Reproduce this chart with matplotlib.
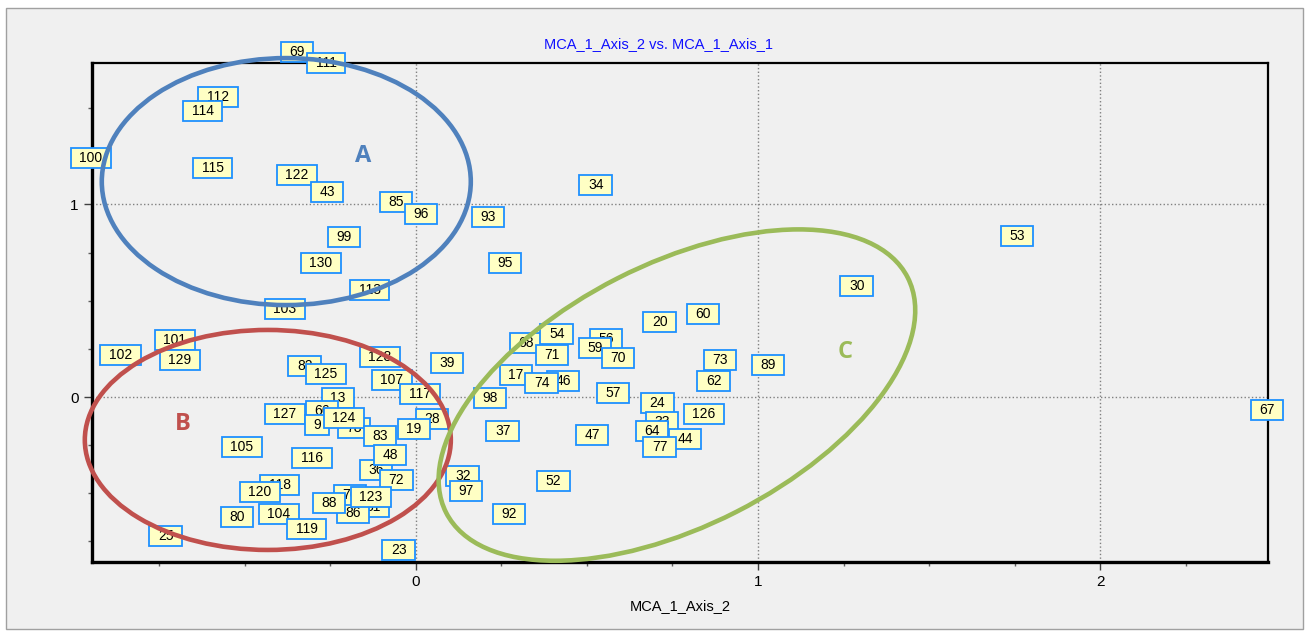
import matplotlib
matplotlib.use("Agg")
import matplotlib.pyplot as plt
from matplotlib.patches import Ellipse, Rectangle
from matplotlib.path import Path
from matplotlib.transforms import ScaledTranslation
from matplotlib.ticker import MultipleLocator

plt.rcParams['font.family'] = ['Liberation Sans', 'DejaVu Sans']

# ---- data: observation labels and their coordinates (drawing order) ----
labels = ["69", "111", "112", "114", "100", "115", "122", "43", "85", "96",
          "93", "99", "130", "113", "103", "34", "53", "95", "30", "20",
          "60", "68", "54", "56", "59", "70", "71", "17", "46", "74",
          "98", "57", "73", "62", "89", "24", "126", "33", "44", "64",
          "77", "37", "47", "67", "32", "97", "52", "92", "102", "101",
          "129", "82", "125", "128", "107", "117", "39", "13", "127", "66",
          "9", "78", "124", "83", "28", "19", "105", "116", "36", "48",
          "72", "118", "120", "104", "119", "80", "81", "86", "76", "88",
          "123", "23", "25"]
mca_axis_2 = [-0.348, -0.263, -0.579, -0.623, -0.950, -0.594, -0.348, -0.260, -0.058, 0.015,
              0.211, -0.211, -0.278, -0.135, -0.383, 0.526, 1.757, 0.260, 1.289, 0.713,
              0.839, 0.322, 0.412, 0.556, 0.523, 0.591, 0.398, 0.292, 0.430, 0.368,
              0.216, 0.576, 0.889, 0.871, 1.029, 0.705, 0.842, 0.719, 0.787, 0.690,
              0.713, 0.254, 0.515, 2.488, 0.137, 0.146, 0.401, 0.272, -0.863, -0.705,
              -0.690, -0.325, -0.263, -0.105, -0.070, 0.012, 0.091, -0.228, -0.383, -0.275,
              -0.289, -0.181, -0.211, -0.105, 0.047, -0.006, -0.509, -0.304, -0.117, -0.076,
              -0.058, -0.398, -0.456, -0.401, -0.319, -0.523, -0.126, -0.184, -0.193, -0.254,
              -0.132, -0.050, -0.731]
mca_axis_1 = [1.792, 1.735, 1.558, 1.486, 1.242, 1.190, 1.153, 1.065, 1.013, 0.951,
              0.935, 0.831, 0.696, 0.556, 0.457, 1.101, 0.836, 0.696, 0.577, 0.390,
              0.431, 0.281, 0.327, 0.301, 0.255, 0.203, 0.218, 0.114, 0.083, 0.073,
              -0.005, 0.021, 0.192, 0.083, 0.166, -0.031, -0.088, -0.130, -0.218, -0.177,
              -0.260, -0.177, -0.197, -0.068, -0.410, -0.488, -0.436, -0.608, 0.218, 0.296,
              0.192, 0.161, 0.119, 0.208, 0.088, 0.016, 0.177, -0.005, -0.088, -0.073,
              -0.145, -0.161, -0.109, -0.203, -0.114, -0.166, -0.260, -0.317, -0.379, -0.301,
              -0.431, -0.457, -0.494, -0.608, -0.686, -0.623, -0.571, -0.603, -0.509, -0.551,
              -0.519, -0.795, -0.722]

# group annotations (ellipses drawn around clusters)
group_names = ["A", "B", "C"]
group_colors = ["#4F81BD", "#C0504D", "#9BBB59"]
group_centers = [(-0.379, 1.119), (-0.433, -0.223), (0.763, 0.010)]
group_sizes_px = [(369, 247, 0), (366, 220, 0), (518, 262, 27)]
group_letter_pos = [(-0.155, 1.252), (-0.681, -0.140), (1.254, 0.234)]


def label_box(x0, y0, width, height, mutation_size):
    px = 0.62 * mutation_size
    py = 0.24 * mutation_size
    x1, y1 = x0 - px, y0 - py
    x2, y2 = x0 + width + px, y0 + height + py
    return Path([(x1, y1), (x2, y1), (x2, y2), (x1, y2), (x1, y1)], closed=True)


W, H = 1309, 631
fig = plt.figure(figsize=(W / 100, H / 100), dpi=100, facecolor='white')
fig.patches.append(Rectangle((6 / W, 1 - 629 / H), (1303 - 6) / W, (629 - 8) / H,
                             transform=fig.transFigure, facecolor='#F0F0F0',
                             edgecolor='#A0A0A0', lw=1, zorder=-10))

left, right, top, bottom = 92, 1268, 63, 562
ax = fig.add_axes([left / W, 1 - bottom / H, (right - left) / W, (bottom - top) / H])
ax.set_facecolor('#F0F0F0')
ax.set_xlim(-0.947, 2.491)
ax.set_ylim(-0.857, 1.735)

ax.xaxis.set_major_locator(MultipleLocator(1))
ax.xaxis.set_minor_locator(MultipleLocator(0.25))
ax.yaxis.set_major_locator(MultipleLocator(1))
ax.yaxis.set_minor_locator(MultipleLocator(0.25))
ax.tick_params(which='major', length=6, width=1, labelsize=11, direction='out', color='#404040')
ax.tick_params(which='minor', length=3, width=1, direction='out', color='#606060')
ax.grid(True, which='major', linestyle=':', color='#808080', linewidth=1)
ax.set_axisbelow(True)
for s in ['left', 'bottom']:
    ax.spines[s].set_linewidth(2.4)
for s in ['top', 'right']:
    ax.spines[s].set_linewidth(1.6)

ax.set_xlabel("MCA_1_Axis_2", fontsize=10.5, labelpad=7)
fig.text(658 / W, 1 - 44 / H, "MCA_1_Axis_2 vs. MCA_1_Axis_1", color='#1010FF',
         fontsize=10.5, ha='center', va='center')

for lab, x, y in zip(labels, mca_axis_2, mca_axis_1):
    ax.text(x, y, lab, fontsize=10, ha='center', va='center', color='black',
            clip_on=False, zorder=3,
            bbox=dict(boxstyle=label_box, facecolor='#FFFFC4', edgecolor='#1E90FF', linewidth=1.3))

for name, col, (cx, cy), (wpx, hpx, ang), (lx, ly) in zip(group_names, group_colors, group_centers,
                                                             group_sizes_px, group_letter_pos):
    e = Ellipse((0, 0), wpx, hpx, angle=ang, fill=False, edgecolor=col, linewidth=3.3,
                transform=ScaledTranslation(cx, cy, ax.transData), zorder=4, clip_on=False)
    ax.add_artist(e)
    ax.text(lx, ly, name, color=col, fontsize=17, fontweight='bold', ha='center', va='center',
            family=['Open Sans', 'DejaVu Sans'], zorder=5)

fig.savefig("out.png", dpi=100, facecolor=fig.get_facecolor())
